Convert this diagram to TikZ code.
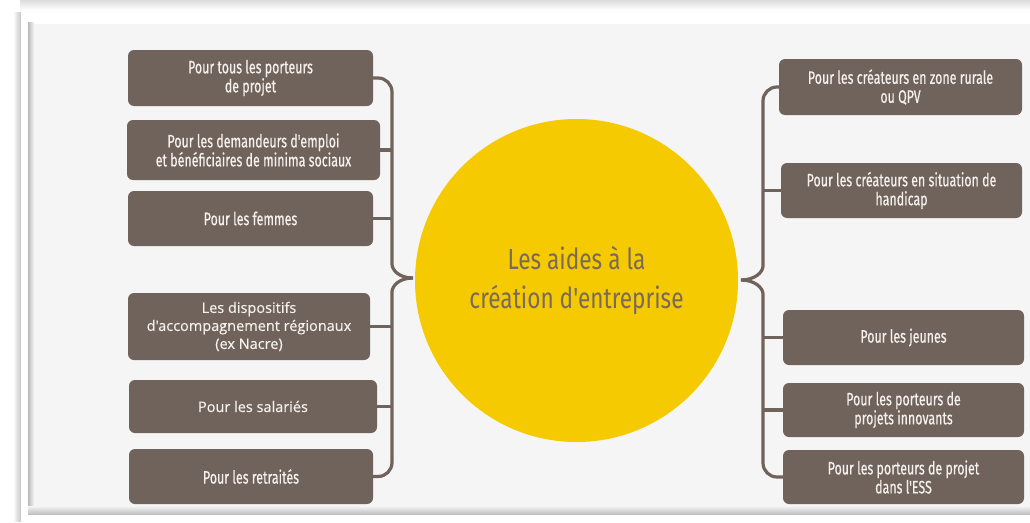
\documentclass[tikz,border=0pt]{standalone}
\usepackage{fontspec}
\newfontfamily\condfont[FakeStretch=0.69,FakeBold=0.5]{Fira Sans}
\newfontfamily\hubfont[FakeStretch=0.78]{Fira Sans}
\newfontfamily\opensans[FakeBold=0.3]{Open Sans}
\definecolor{boxbrown}{RGB}{112,99,92}
\definecolor{boxtext}{RGB}{246,241,237}
\definecolor{sunyellow}{RGB}{245,202,0}
\definecolor{titlebrown}{RGB}{122,106,92}
\definecolor{panelgray}{RGB}{245,245,245}

\begin{document}
\begin{tikzpicture}[x=1pt,y=-1pt]
    \tikzset{box/.style={rectangle,rounded corners=6pt,fill=boxbrown,text=boxtext,align=center,inner sep=0pt,minimum width=243pt,minimum height=55pt,font=\condfont\fontsize{18}{19}\selectfont}}
    \tikzset{widebox/.style={box,font=\opensans\fontsize{14.5}{18}\selectfont}}
    \tikzset{conn/.style={draw=boxbrown,line width=3.2pt}}
    \tikzset{hub/.style={circle,fill=sunyellow,minimum size=323pt,inner sep=0pt,text=titlebrown,align=center,font=\hubfont\fontsize{29}{39}\selectfont}}
    \useasboundingbox (0,0) rectangle (1030,522);
    % frame and panel
    \fill[white] (0,0) rectangle (1030,522);
    \shade[top color=gray!28,bottom color=white] (20,0) rectangle (1030,10);
    \shade[left color=white,right color=gray!45] (13,12) rectangle (21,521);
    \fill[white] (21,10) rectangle (1030,521);
    \shade[left color=gray!55,right color=panelgray] (28,22) rectangle (34,514);
    \shade[top color=panelgray,bottom color=gray!50] (28,506) rectangle (1030,514);
    \fill[panelgray] (34,24) rectangle (1030,506);
    % hub
    \draw (576.5,280.5) node[hub](c1){Les aides à la\\création d'entreprise};
    % left boxes
    \draw (250.5,78) node[box,minimum width=245pt,minimum height=56pt](l1){Pour tous les porteurs\\de projet};
    \draw (253.5,150) node[box,minimum width=253pt,minimum height=60pt](l2){Pour les demandeurs d'emploi\\et bénéficiaires de minima sociaux};
    \draw (250.5,218.5) node[box,minimum width=245pt](l3){Pour les femmes};
    \draw (249,326.5) node[widebox,minimum width=242pt,minimum height=67pt](l4){Les dispositifs\\d'accompagnement régionaux\\(ex Nacre)};
    \draw (253,406.5) node[widebox,minimum width=248pt,minimum height=53pt](l5){Pour les salariés};
    \draw (251,476.5) node[box,minimum width=244pt](l6){Pour les retraités};
    % right boxes
    \draw (900.5,87) node[box,minimum height=56pt](r1){Pour les créateurs en zone rurale\\ou QPV};
    \draw (901.5,190.5) node[box,minimum width=241pt](r2){Pour les créateurs en situation de\\handicap};
    \draw (903.5,337.5) node[box,minimum width=241pt](r3){Pour les jeunes};
    \draw (903.5,410) node[box,minimum width=241pt,minimum height=54pt](r4){Pour les porteurs de\\projets innovants};
    \draw (903.5,477) node[box,minimum width=241pt,minimum height=54pt](r5){Pour les porteurs de projet\\dans l'ESS};
    % braces
    \coordinate (ltip) at (413,278);
    \coordinate (lup) at (392,250);
    \coordinate (ldn) at (392,306);
    \coordinate (rtip) at (741,280);
    \coordinate (rup) at (763,252);
    \coordinate (rdn) at (763,308);
    \draw[conn,rounded corners=14pt](l1.east) -| (lup) .. controls +(0,20) and +(-14,0) .. (ltip);
    \draw[conn,rounded corners=14pt](l6.east) -| (ldn) .. controls +(0,-20) and +(-14,0) .. (ltip);
    \draw[conn](l2.east) -- (l2.east -| lup);
    \draw[conn](l3.east) -- (l3.east -| lup);
    \draw[conn](l4.east) -- (l4.east -| lup);
    \draw[conn](l5.east) -- (l5.east -| lup);
    \draw[conn,rounded corners=14pt](r1.west) -| (rup) .. controls +(0,20) and +(14,0) .. (rtip);
    \draw[conn,rounded corners=14pt](r5.west) -| (rdn) .. controls +(0,-20) and +(14,0) .. (rtip);
    \draw[conn](r2.west) -- (r2.west -| rup);
    \draw[conn](r3.west) -- (r3.west -| rup);
    \draw[conn](r4.west) -- (r4.west -| rup);

  \end{tikzpicture}
\end{document}
